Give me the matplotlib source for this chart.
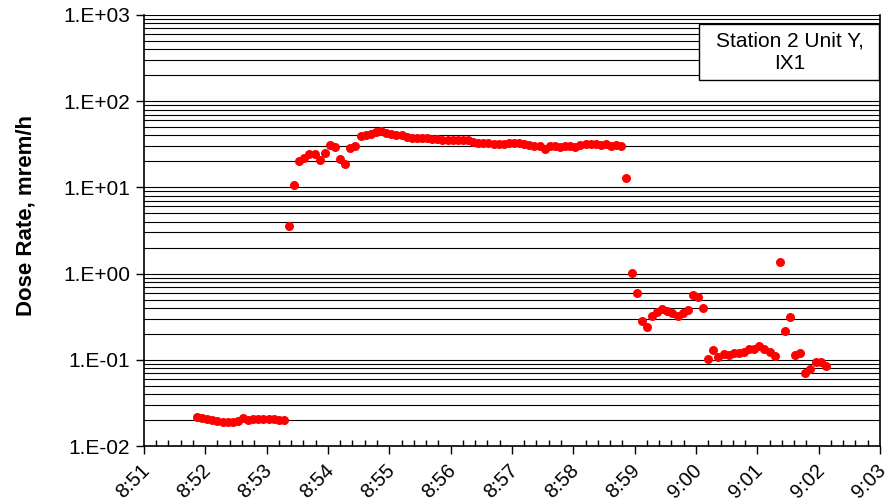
import datetime as dt
import numpy as np
import matplotlib
matplotlib.use("Agg")
import matplotlib.pyplot as plt
import matplotlib.dates as mdates
import matplotlib.transforms as mtransforms
from matplotlib.ticker import FuncFormatter, LogLocator, NullFormatter
from matplotlib.patches import Rectangle

plt.rcParams['font.family'] = ['Liberation Sans', 'DejaVu Sans']

# readings every 5 s starting 8:51:52
start_time = dt.datetime(2000, 1, 1, 8, 51, 52)
step_s = 5

before = [0.0215, 0.021, 0.0205, 0.020, 0.0196, 0.0192, 0.019, 0.019, 0.0195,
          0.021, 0.0202, 0.0203, 0.0205, 0.0206, 0.0205, 0.0203, 0.020, 0.0198]
flow = [3.6, 10.7, 20.4, 21.7, 24.4, 24.2, 20.8, 25.3, 30.8, 29.2,
        21.3, 18.7, 28.5, 30.2, 39.4, 40.8, 41.6, 43.5, 45.5, 43.0,
        41.5, 40.5, 40.0, 38.5, 37.5, 37.5, 37.0, 37.5, 36.5, 36.0,
        35.5, 35.5, 35.0, 35.0, 35.5, 35.0, 34.0, 33.0, 32.5, 32.5,
        31.5, 31.5, 31.5, 32.5, 33.0, 32.5, 31.5, 31.0, 30.5, 30.0,
        28.0, 30.0, 30.0, 29.5, 30.0, 30.0, 29.5, 31.0, 32.0, 31.5,
        31.5, 31.0, 31.5, 30.5, 31.0, 30.0]
drop = [12.9, 1.02, 0.59, 0.28, 0.242, 0.322, 0.361, 0.385, 0.368, 0.352,
        0.322, 0.352, 0.378, 0.565, 0.54, 0.395]
after = [0.101, 0.13, 0.109, 0.117, 0.113, 0.119, 0.121, 0.122, 0.133, 0.135,
         0.146, 0.135, 0.122, 0.111, 1.37, 0.216, 0.31, 0.113, 0.12, 0.0707,
         0.078, 0.095, 0.0935, 0.0855]

dose = np.array(before + flow + drop + after)
times = [start_time + dt.timedelta(seconds=step_s * i) for i in range(len(dose))]

box_text = "Station 2 Unit Y,\nIX1"
y_label = "Dose Rate, mrem/h"

fig = plt.figure(figsize=(8.88, 5.03), dpi=100)
ax = fig.add_axes([0.162, 0.1133, 0.829, 0.857])

ax.set_yscale('log')
ax.set_ylim(1e-2, 1e3)
ax.set_xlim(dt.datetime(2000, 1, 1, 8, 51), dt.datetime(2000, 1, 1, 9, 3))

ax.yaxis.set_major_locator(LogLocator(base=10, numticks=10))
ax.yaxis.set_minor_locator(LogLocator(base=10, subs=np.arange(2, 10), numticks=20))
ax.yaxis.set_minor_formatter(NullFormatter())
ax.yaxis.set_major_formatter(FuncFormatter(lambda v, p: "1.E%+03d" % int(round(np.log10(v)))))
ax.grid(True, which='both', axis='y', color='black', linewidth=0.8)
ax.set_axisbelow(True)

ax.xaxis.set_major_locator(mdates.MinuteLocator())
ax.xaxis.set_minor_locator(mdates.SecondLocator(bysecond=[12, 24, 36, 48]))


def hm(v, pos):
    d = mdates.num2date(v)
    return "%d:%02d" % (d.hour, d.minute)


ax.xaxis.set_major_formatter(FuncFormatter(hm))
ax.tick_params(axis='x', which='major', direction='out', length=6, width=1, labelsize=14.5, pad=3)
ax.tick_params(axis='x', which='minor', direction='in', length=4, width=1)
ax.tick_params(axis='y', which='major', direction='out', length=6, width=1, labelsize=15, pad=4)
ax.tick_params(axis='y', which='minor', length=0)
shift = mtransforms.ScaledTranslation(-4 / 100, -2 / 100, fig.dpi_scale_trans)
for lbl in ax.get_xticklabels():
    lbl.set_rotation(45)
    lbl.set_ha('right')
    lbl.set_va('top')
    lbl.set_rotation_mode('anchor')
    lbl.set_transform(lbl.get_transform() + shift)

for s in ['left', 'bottom', 'right']:
    ax.spines[s].set_color('black')
    ax.spines[s].set_linewidth(1.2)
ax.spines['top'].set_visible(False)

ax.scatter(times, dose, s=42, color='#ff0000', zorder=3, linewidths=0)

ax.set_ylabel(y_label, fontsize=16, fontweight='bold')
ax.yaxis.set_label_coords(-0.146, 0.535)

ax.add_patch(Rectangle((0.754, 0.849), 0.2446, 0.13, transform=ax.transAxes,
                       facecolor='white', edgecolor='black', linewidth=1, zorder=4))
ax.text(0.877, 0.914, box_text, transform=ax.transAxes, ha='center', va='center',
        fontsize=15, linespacing=1.2, zorder=5)

fig.savefig("out.png", dpi=100)
